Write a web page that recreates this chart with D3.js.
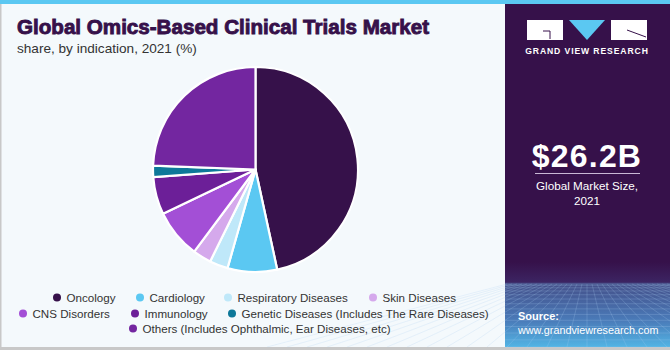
<!DOCTYPE html>
<html><head><meta charset="utf-8">
<script src="https://cdn.jsdelivr.net/npm/d3@7"></script>
<style>body{margin:0;background:#fff}svg{display:block}</style>
</head><body>
<svg id="c" width="670" height="350"></svg>
<script>
const categories = ["Oncology","Cardiology","Respiratory Diseases","Skin Diseases","CNS Disorders","Immunology","Genetic Diseases (Includes The Rare Diseases)","Others (Includes Ophthalmic, Ear Diseases, etc)"];
const shares = [46.6, 7.8, 2.9, 2.9, 7.7, 5.9, 1.8, 24.4];
const colors = ["#36114a","#5bc8f2","#bfe8f9","#d5a9ec","#a34fd6","#6c1f98","#0e7899","#7326a0"];
const legendRows = [[0,1,2,3],[4,5,6],[7]];

const svg = d3.select("#c");
const defs = svg.append("defs");
const FF = "Liberation Sans, Arial, sans-serif";

// background
svg.append("rect").attr("width",670).attr("height",350).attr("fill","#f4f9fc");
svg.append("rect").attr("x",0).attr("y",0).attr("width",1.5).attr("height",350).attr("fill","#c8c8c8");
svg.append("rect").attr("x",0).attr("y",347).attr("width",670).attr("height",3).attr("fill","#c8c8c8");

// right panel
const px = 505, pw = 165, py = 0, ph = 347;
const g1 = defs.append("linearGradient").attr("id","pg").attr("gradientUnits","userSpaceOnUse")
  .attr("x1",0).attr("y1",0).attr("x2",0).attr("y2",ph);
[[0,"#36114a"],[262,"#36114a"],[282,"#3c2462"],[284,"#44508a"],[320,"#4a7ab8"],[347,"#52b4e4"]]
  .forEach(([o,c])=>g1.append("stop").attr("offset",(o/ph*100)+"%").attr("stop-color",c));
svg.append("rect").attr("x",px).attr("y",py).attr("width",pw).attr("height",ph).attr("fill","url(#pg)");
// grid texture
const grid = svg.append("g").attr("stroke","#a8cdf0").attr("stroke-opacity",0.32).attr("stroke-width",0.7).attr("fill","none");
const gcx = 587, gTop = 284;
for (let i=-16;i<=16;i++){
  grid.append("line").attr("x1",gcx+i*5).attr("y1",gTop).attr("x2",gcx+i*20).attr("y2",347);
}
for (let j=0;j<14;j++){
  const y = gTop + Math.pow(j/13,1.5)*63;
  grid.append("line").attr("x1",px).attr("y1",y).attr("x2",670).attr("y2",y);
}
svg.append("rect").attr("x",0).attr("y",0).attr("width",670).attr("height",4).attr("fill","#5bc8f2");

svg.append("text").attr("x",587).attr("y",54).attr("text-anchor","middle")
  .attr("font-family",FF).attr("font-weight","bold")
  .attr("font-size",8.6).attr("letter-spacing",0.9).attr("fill","#fff").text("GRAND VIEW RESEARCH");

svg.append("text").attr("x",587).attr("y",167).attr("text-anchor","middle")
  .attr("font-family",FF).attr("font-weight","bold")
  .attr("font-size",32).attr("letter-spacing",1.2).attr("fill","#fff").text("$26.2B");
svg.append("line").attr("x1",535).attr("x2",640).attr("y1",173.5).attr("y2",173.5).attr("stroke","#c9b8d6").attr("stroke-width",1);
svg.append("text").attr("x",587).attr("y",190).attr("text-anchor","middle")
  .attr("font-family",FF).attr("font-size",11.7).attr("fill","#fff").text("Global Market Size,");
svg.append("text").attr("x",587).attr("y",205).attr("text-anchor","middle")
  .attr("font-family",FF).attr("font-size",11.7).attr("fill","#fff").text("2021");
svg.append("text").attr("x",518).attr("y",320).attr("font-family",FF)
  .attr("font-weight","bold").attr("font-size",11).attr("fill","#fff").text("Source:");
svg.append("text").attr("x",518).attr("y",334).attr("font-family",FF)
  .attr("font-size",10.8).attr("fill","#fff").text("www.grandviewresearch.com");

// title
svg.append("text").attr("x",17).attr("y",34).attr("font-family",FF)
  .attr("font-weight","bold").attr("font-size",20.6).attr("fill","#36114a")
  .attr("stroke","#36114a").attr("stroke-width",0.9).text("Global Omics-Based Clinical Trials Market");
svg.append("text").attr("x",17).attr("y",53).attr("font-family",FF)
  .attr("font-size",13.6).attr("fill","#333").text("share, by indication, 2021 (%)");

// pie
const cx = 255.5, cy = 169.5, r = 102.5;
const pie = d3.pie().sort(null).value(d=>d)(shares);
const arc = d3.arc().innerRadius(0).outerRadius(r);
svg.append("g").attr("transform",`translate(${cx},${cy})`)
  .selectAll("path").data(pie).join("path")
  .attr("d",arc).attr("fill",(d,i)=>colors[i])
  .attr("stroke","#fff").attr("stroke-width",2.2).attr("stroke-linejoin","round");

// legend
const legendX = [[57,140,228,373],[23,135,232],[133]];
const legendY = [297,313,328];
const leg = svg.append("g").attr("font-family",FF).attr("font-size",11.6).attr("fill","#333");
legendRows.forEach((row,ri)=>{
  row.forEach((ci,k)=>{
    const x = legendX[ri][k], y = legendY[ri];
    leg.append("circle").attr("cx",x).attr("cy",y+0.5).attr("r",4).attr("fill",colors[ci]);
    leg.append("text").attr("x",x+9.5).attr("y",y+4.5).text(categories[ci]);
  });
});

// logo
const lg = svg.append("g").attr("class","logo");
lg.append("rect").attr("x",527).attr("y",20).attr("width",36).attr("height",20).attr("fill","white");
lg.append("rect").attr("x",611).attr("y",20).attr("width",36).attr("height",20).attr("fill","white");
lg.append("polygon").attr("points","569,20 605,20 587,40").attr("fill","#5bc8f2");
lg.append("polyline").attr("points","543,31 550,31 550,39").attr("stroke","#36114a").attr("fill","none").attr("stroke-width",1);
lg.append("line").attr("x1",627).attr("y1",30).attr("x2",646).attr("y2",37).attr("stroke","#36114a").attr("stroke-width",1);
</script>
</body></html>
